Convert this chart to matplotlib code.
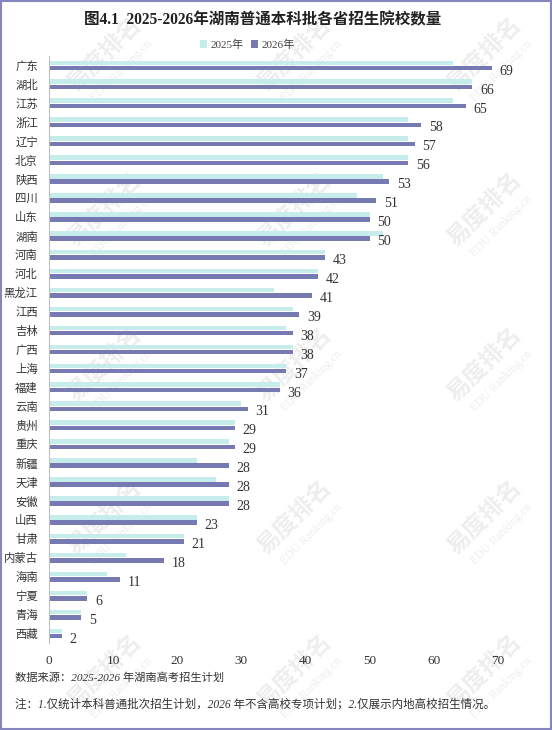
import numpy as np
import matplotlib.pyplot as plt
from matplotlib.patches import Rectangle

# data
provinces = ['广东', '湖北', '江苏', '浙江', '辽宁', '北京', '陕西', '四川', '山东', '湖南',
             '河南', '河北', '黑龙江', '江西', '吉林', '广西', '上海', '福建', '云南', '贵州',
             '重庆', '新疆', '天津', '安徽', '山西', '甘肃', '内蒙古', '海南', '宁夏', '青海', '西藏']
v2025 = [63, 66, 63, 56, 56, 56, 52, 48, 50, 52,
         43, 42, 35, 38, 37, 38, 37, 36, 30, 29,
         28, 23, 26, 28, 23, 21, 12, 9, 6, 5, 2]
v2026 = [69, 66, 65, 58, 57, 56, 53, 51, 50, 50,
         43, 42, 41, 39, 38, 38, 37, 36, 31, 29,
         29, 28, 28, 28, 23, 21, 18, 11, 6, 5, 2]
xticks = [0, 10, 20, 30, 40, 50, 60, 70]

title = '图4.1  2025-2026年湖南普通本科批各省招生院校数量'
source = '数据来源：2025-2026 年湖南高考招生计划'
note = '注：1.仅统计本科普通批次招生计划，2026 年不含高校专项计划；2.仅展示内地高校招生情况。'

fam = ['Liberation Serif', 'Noto Sans CJK SC']
plt.rcParams['font.family'] = fam

c25 = '#c6eceb'
c26 = '#7679b2'

fig = plt.figure(figsize=(5.52, 7.30), dpi=100)

# faint watermark behind everything
for wx in [105, 295, 485]:
    for wy in [55, 210, 365, 518, 672]:
        fig.text(wx/552, 1 - wy/730, '易度排名', ha='center', va='center', rotation=45,
                 fontsize=17, fontweight='bold', color='#eeeeee', zorder=-2)
        fig.text((wx + 16)/552, 1 - (wy + 16)/730, 'EDU Ranking.cn', ha='center', va='center',
                 rotation=45, fontsize=8.5, color='#eeeeee', zorder=-2)

ax = fig.add_axes([49/552, 1 - 643/730, 449/552, 587/730])

y = np.arange(len(provinces))
h = 0.24
ax.barh(y - 0.14, v2025, height=h, color=c25, label='2025年')
ax.barh(y + 0.14, v2026, height=h, color=c26, label='2026年')

for yi, v in zip(y, v2026):
    ax.text(v + 1.2, yi + 0.3, str(v), va='center', ha='left', fontsize=10, color='#333333')

ax.set_xlim(0, 70)
ax.set_ylim(len(provinces) - 0.5, -0.5)
ax.set_yticks(y)
ax.set_yticklabels(provinces, fontsize=8.2, color='#333333')
ax.set_xticks(xticks)
ax.set_xticklabels([str(t) for t in xticks], fontsize=9.5, color='#333333')
ax.tick_params(axis='both', length=0)
ax.tick_params(axis='y', pad=8)
ax.tick_params(axis='x', pad=9)
for s in ['top', 'right', 'bottom']:
    ax.spines[s].set_visible(False)
ax.spines['left'].set_color('#bfbfbf')
ax.spines['left'].set_linewidth(0.8)
ax.set_facecolor('none')

fig.text(0.475, 1 - 20/730, title, ha='center', va='center', fontsize=11.2, fontweight='bold', color='#222222')
fig.legend(loc='center', bbox_to_anchor=(0.448, 1 - 45/730), ncol=2, frameon=False, fontsize=8,
           handlelength=0.7, handleheight=0.7, columnspacing=0.6, handletextpad=0.3,
           labelcolor='#444444')

fig.text(15/552, 1 - 678/730, source, ha='left', va='center', fontsize=8.1, style='italic', color='#333333')
fig.text(15/552, 1 - 704/730, note, ha='left', va='center', fontsize=8.3, style='italic', color='#333333')

fig.patches.append(Rectangle((0.002, 0.002), 0.996, 0.996, transform=fig.transFigure,
                             fill=False, edgecolor='#8585c0', linewidth=1.5))

fig.savefig('out.png', dpi=100)
